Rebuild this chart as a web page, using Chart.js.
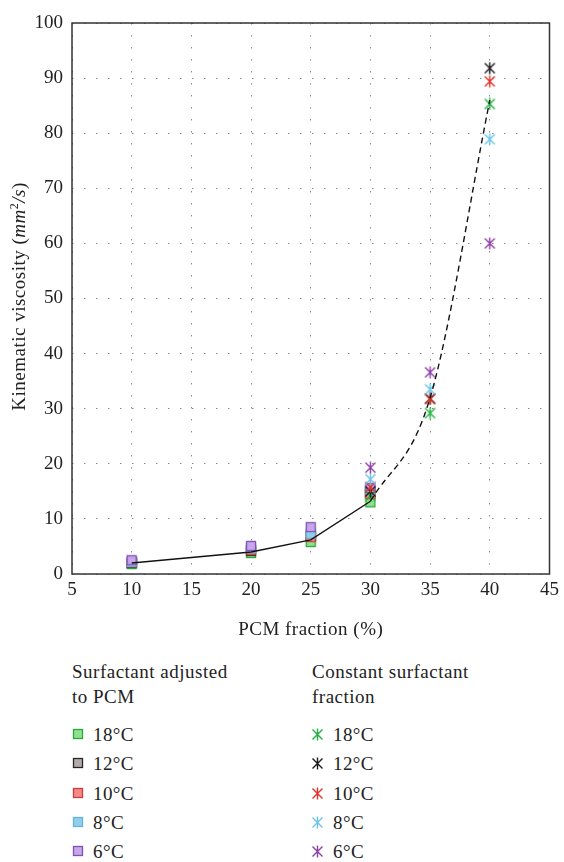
<!DOCTYPE html>
<html>
<head>
<meta charset="utf-8">
<script src="https://cdn.jsdelivr.net/npm/chart.js@4.4.1/dist/chart.umd.min.js"></script>
<style>
  html, body { margin: 0; padding: 0; background: #fff; }
  body { width: 564px; height: 862px; position: relative; overflow: hidden; font-family: "Liberation Serif", "DejaVu Serif", serif; color: #222; }
  #wrap { position: absolute; left: 0; top: 0; width: 564px; height: 644px; }
  .ttl { position: absolute; font-size: 19px; line-height: 25px; white-space: nowrap; letter-spacing: 0.5px; }
  .item { position: absolute; font-size: 19px; line-height: 25px; white-space: nowrap; letter-spacing: 0.4px; }
  .item canvas { position: absolute; top: 6px; }
</style>
</head>
<body>
<div id="wrap"><canvas id="c" width="564" height="644"></canvas></div>
<div id="legend"></div>
<script>
// ---- data ----
const temps = ["18°C", "12°C", "10°C", "8°C", "6°C"];
const xAdjusted = [10, 20, 25, 30];
const adj18 = [1.8, 3.8, 5.8, 13.0];
const adj12 = [2.0, 4.2, 6.9, 14.8];
const adj10 = [2.1, 4.4, 6.7, 14.5];
const adj8  = [2.2, 4.7, 7.3, 15.3];
const adj6  = [2.5, 5.1, 8.5, 15.6];
const xConstant = [30, 35, 40];
const con18 = [14.2, 29.2, 85.3];
const con12 = [15.0, 31.8, 91.8];
const con10 = [15.8, 31.8, 89.4];
const con8  = [17.2, 33.5, 78.9];
const con6  = [19.3, 36.6, 60.0];
const fitSolidX = [10, 20, 25, 30];
const fitSolidY = [2.0, 4.0, 6.2, 13.2];
const fitDashX = [30, 35, 40];
const fitDashY = [13.2, 32.0, 86.0];
const xTicks = [5, 10, 15, 20, 25, 30, 35, 40, 45];
const yTicks = [0, 10, 20, 30, 40, 50, 60, 70, 80, 90, 100];
const legendTitles = ["Surfactant adjusted\nto PCM", "Constant surfactant\nfraction"];
const xTitle = "PCM fraction (%)";

// ---- styles ----
const sqFill   = ['#8fe38f', '#b3aba9', '#f38a8a', '#93cde9', '#c9a5ec'];
const sqBorder = ['#2aa83c', '#262626', '#d33a3a', '#62b3dc', '#7d52b4'];
const crColor  = ['#1fb040', '#1a1a1a', '#e2332a', '#6cc3ea', '#8d3ea9'];
const FONT = '"Liberation Serif", "DejaVu Serif", serif';

function crossImg(color) {
  const c = document.createElement('canvas');
  c.width = 13; c.height = 13;
  const g = c.getContext('2d');
  g.strokeStyle = color; g.lineWidth = 1.4; g.lineCap = 'butt';
  g.beginPath();
  g.moveTo(1.5, 1.5); g.lineTo(11.5, 11.5);
  g.moveTo(11.5, 1.5); g.lineTo(1.5, 11.5);
  g.moveTo(6.5, 0.5); g.lineTo(6.5, 12.5);
  g.stroke();
  return c;
}
function squareImg(fill, border) {
  const c = document.createElement('canvas');
  c.width = 12; c.height = 12;
  const g = c.getContext('2d');
  g.fillStyle = fill; g.fillRect(1, 1, 10, 10);
  g.strokeStyle = border; g.lineWidth = 1.3; g.strokeRect(1.5, 1.5, 9, 9);
  return c;
}

const zip = (xs, ys) => xs.map((x, i) => ({x: x, y: ys[i]}));
const adjSeries = [adj18, adj12, adj10, adj8, adj6];
const conSeries = [con18, con12, con10, con8, con6];

const datasets = [];
datasets.push({ label: 'fit', data: zip(fitSolidX, fitSolidY), showLine: true, borderColor: '#111', borderWidth: 1.4, pointRadius: 0, order: 0 });
datasets.push({ label: 'fit2', data: zip(fitDashX, fitDashY), showLine: true, borderColor: '#111', borderWidth: 1.4, borderDash: [6, 4], pointRadius: 0, cubicInterpolationMode: 'monotone', order: 0 });
for (let i = 0; i < 5; i++) {
  datasets.push({ label: 'Constant ' + temps[i], data: zip(xConstant, conSeries[i]), pointStyle: crossImg(crColor[i]), showLine: false, order: 10 - i });
}
for (let i = 0; i < 5; i++) {
  datasets.push({ label: 'Adjusted ' + temps[i], data: zip(xAdjusted, adjSeries[i]), pointStyle: squareImg(sqFill[i], sqBorder[i]), showLine: false, order: 20 - i });
}

const framePlugin = {
  id: 'frame',
  afterDatasetsDraw(chart) {
    const a = chart.chartArea, ctx = chart.ctx;
    ctx.save();
    ctx.strokeStyle = '#333'; ctx.lineWidth = 1.5;
    ctx.strokeRect(a.left, a.top, a.right - a.left, a.bottom - a.top);
    ctx.restore();
  },
  afterDraw(chart) {
    const a = chart.chartArea, ctx = chart.ctx;
    ctx.save();
    ctx.fillStyle = '#222';
    ctx.letterSpacing = '0.5px';
    ctx.font = '19px ' + FONT;
    ctx.textAlign = 'center'; ctx.textBaseline = 'alphabetic';
    ctx.fillText(xTitle, (a.left + a.right) / 2, 635);
    const parts = [
      {t: 'Kinematic viscosity (', f: '19px ' + FONT, dy: 0},
      {t: 'mm', f: 'italic 19px ' + FONT, dy: 0},
      {t: '2', f: '12px ' + FONT, dy: -7},
      {t: '/s', f: 'italic 19px ' + FONT, dy: 0},
      {t: ')', f: '19px ' + FONT, dy: 0}
    ];
    let total = 0;
    ctx.textAlign = 'left';
    parts.forEach(p => { ctx.font = p.f; p.w = ctx.measureText(p.t).width; total += p.w; });
    ctx.translate(25, (a.top + a.bottom) / 2 - 2);
    ctx.rotate(-Math.PI / 2);
    let x = -total / 2;
    parts.forEach(p => { ctx.font = p.f; ctx.fillText(p.t, x, p.dy); x += p.w; });
    ctx.restore();
  }
};

new Chart(document.getElementById('c'), {
  type: 'scatter',
  data: { datasets: datasets },
  plugins: [framePlugin],
  options: {
    responsive: false,
    animation: false,
    events: [],
    layout: { padding: { left: 0, right: 12, top: 23, bottom: 0 } },
    plugins: { legend: { display: false }, tooltip: { enabled: false }, title: { display: false } },
    scales: {
      x: {
        type: 'linear', min: 5, max: 45,
        afterBuildTicks: s => { s.ticks = xTicks.map(v => ({value: v})); },
        afterFit: s => { s.height = 70; },
        grid: { color: '#8a8a8a', drawTicks: false, lineWidth: 1 },
        border: { display: false, dash: [1.5, 10.5] },
        ticks: { font: { family: FONT, size: 19 }, color: '#222', padding: 5, maxRotation: 0, autoSkip: false }
      },
      y: {
        type: 'linear', min: 0, max: 100,
        afterBuildTicks: s => { s.ticks = yTicks.map(v => ({value: v})); },
        afterFit: s => { s.width = 72; },
        grid: { color: '#8a8a8a', drawTicks: false, lineWidth: 1 },
        border: { display: false, dash: [1.5, 10.5] },
        ticks: { font: { family: FONT, size: 19 }, color: '#222', padding: 9, autoSkip: false }
      }
    }
  }
});

// ---- HTML legend ----
const legend = document.getElementById('legend');
const cols = [{tx: 72, mx: 72, text: 93}, {tx: 312, mx: 311, text: 333}];
legendTitles.forEach((t, ci) => {
  const d = document.createElement('div');
  d.className = 'ttl';
  d.style.left = cols[ci].tx + 'px';
  d.style.top = '659px';
  d.innerHTML = t.replace('\n', '<br>');
  legend.appendChild(d);
});
temps.forEach((t, i) => {
  for (let ci = 0; ci < 2; ci++) {
    const d = document.createElement('div');
    d.className = 'item';
    d.style.left = cols[ci].mx + 'px';
    d.style.top = (722 + i * 29.3) + 'px';
    d.style.width = '120px';
    d.style.height = '25px';
    const img = ci === 0 ? squareImg(sqFill[i], sqBorder[i]) : crossImg(crColor[i]);
    img.style.left = '0px';
    d.appendChild(img);
    const s = document.createElement('span');
    s.textContent = t;
    s.style.position = 'absolute';
    s.style.left = (cols[ci].text - cols[ci].mx) + 'px';
    s.style.top = '0px';
    d.appendChild(s);
    legend.appendChild(d);
  }
});
</script>
</body>
</html>
